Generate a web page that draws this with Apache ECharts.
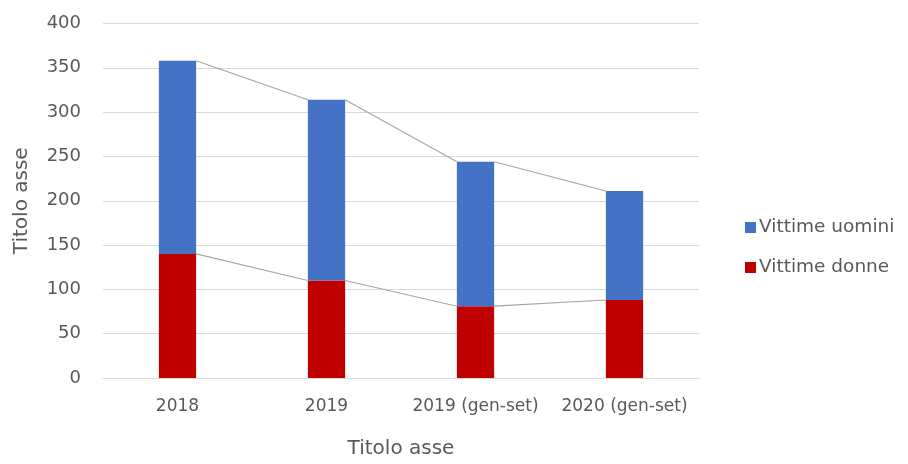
<!DOCTYPE html>
<html>
<head>
<meta charset="utf-8">
<script src="https://cdn.jsdelivr.net/npm/echarts@6/dist/echarts.min.js"></script>
<style>html,body{margin:0;padding:0;background:#fff}#c{width:908px;height:464px}</style>
</head>
<body>
<div id="c"></div>
<script>
var categories = ['2018', '2019', '2019 (gen-set)', '2020 (gen-set)'];
var vittimeDonne = [140, 110, 81, 88];
var vittimeUomini = [218, 204, 163, 123];
var yTicks = { min: 0, max: 400, interval: 50 };

var FONT = '"DejaVu Sans", "Liberation Sans", sans-serif';
var TXT = '#595959';
var BAR_RATIO = 0.25;

var totals = vittimeDonne.map(function (d, i) { return d + vittimeUomini[i]; });

function seriesLineData(vals) {
  var out = [];
  for (var i = 0; i < vals.length - 1; i++) out.push([i, vals[i], vals[i + 1]]);
  return out;
}

function renderSeriesLine(params, api) {
  var i = api.value(0);
  var half = api.size([1, 0])[0] * BAR_RATIO / 2;
  var p1 = api.coord([i, api.value(1)]);
  var p2 = api.coord([i + 1, api.value(2)]);
  return {
    type: 'line',
    shape: { x1: p1[0] + half, y1: p1[1], x2: p2[0] - half, y2: p2[1] },
    style: { stroke: '#A6A6A6', lineWidth: 1.2 },
    z2: 10
  };
}

var chart = echarts.init(document.getElementById('c'), null, { renderer: 'canvas' });
chart.setOption({
  animation: false,
  backgroundColor: '#fff',
  textStyle: { fontFamily: FONT },
  grid: { left: 103, right: 209, top: 23.5, bottom: 82, containLabel: false },
  legend: {
    orient: 'vertical',
    left: 740,
    top: 213,
    itemWidth: 11,
    itemHeight: 11,
    itemGap: 21,
    icon: 'rect',
    data: ['Vittime uomini', 'Vittime donne'],
    textStyle: { color: TXT, fontSize: 18.5, fontFamily: FONT, padding: [0, 0, 0, -2] }
  },
  xAxis: {
    type: 'category',
    data: categories,
    name: 'Titolo asse',
    nameLocation: 'middle',
    nameGap: 61,
    nameTextStyle: { color: TXT, fontSize: 20, fontFamily: FONT },
    axisLine: { lineStyle: { color: '#D9D9D9' } },
    axisTick: { show: false },
    axisLabel: { color: TXT, fontSize: 17, margin: 20, fontFamily: FONT, interval: 0, hideOverlap: false }
  },
  yAxis: {
    type: 'value',
    min: yTicks.min,
    max: yTicks.max,
    interval: yTicks.interval,
    name: 'Titolo asse',
    nameLocation: 'middle',
    nameGap: 71,
    nameTextStyle: { color: TXT, fontSize: 20, fontFamily: FONT },
    axisLine: { show: false },
    axisTick: { show: false },
    axisLabel: { color: TXT, fontSize: 18, margin: 22, fontFamily: FONT },
    splitLine: { lineStyle: { color: '#D9D9D9', width: 1 } }
  },
  series: [
    {
      name: 'Vittime donne',
      type: 'bar',
      stack: 'tot',
      barWidth: (BAR_RATIO * 100) + '%',
      itemStyle: { color: '#C00000' },
      data: vittimeDonne
    },
    {
      name: 'Vittime uomini',
      type: 'bar',
      stack: 'tot',
      barWidth: (BAR_RATIO * 100) + '%',
      itemStyle: { color: '#4472C4' },
      data: vittimeUomini
    },
    {
      type: 'custom',
      renderItem: renderSeriesLine,
      encode: { x: 0, y: 1 },
      data: seriesLineData(vittimeDonne),
      z: 5,
      silent: true
    },
    {
      type: 'custom',
      renderItem: renderSeriesLine,
      encode: { x: 0, y: 1 },
      data: seriesLineData(totals),
      z: 5,
      silent: true
    }
  ]
});
</script>
</body>
</html>
